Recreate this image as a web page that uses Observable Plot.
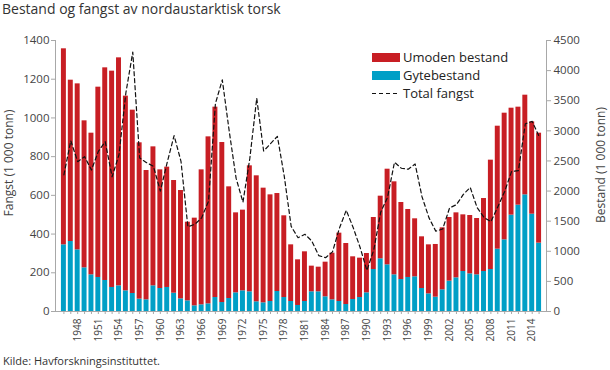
<!DOCTYPE html>
<html><head><meta charset="utf-8">
<script src="https://cdn.jsdelivr.net/npm/d3@7"></script>
<script src="https://cdn.jsdelivr.net/npm/@observablehq/plot@0.6"></script>
<style>
body{margin:0;background:#fff;font-family:"Open Sans",sans-serif;color:#333}
#wrap{position:relative;width:610px;height:370px;overflow:hidden}
#title{position:absolute;left:2px;top:0px;font-size:14px;line-height:18px;color:#333;white-space:nowrap}
#chart{position:absolute;left:0;top:24px}
#caption{position:absolute;left:3px;top:354px;font-size:11px;line-height:14px;color:#333;white-space:nowrap}
#legend{position:absolute;left:372px;top:48px;font-size:13px;color:#222}
.row{display:flex;align-items:center;height:18px}
.sw{width:28px;height:9px;margin-right:3px}
</style></head><body>
<div id="wrap">
  <div id="title">Bestand og fangst av nordaustarktisk torsk</div>
  <div id="chart"></div>
  <div id="legend"></div>
  <div id="caption">Kilde: Havforskningsinstituttet.</div>
</div>
<script>
const years = [1946,1947,1948,1949,1950,1951,1952,1953,1954,1955,1956,1957,1958,1959,1960,1961,1962,1963,1964,1965,
1966,1967,1968,1969,1970,1971,1972,1973,1974,1975,1976,1977,1978,1979,1980,1981,1982,1983,1984,1985,
1986,1987,1988,1989,1990,1991,1992,1993,1994,1995,1996,1997,1998,1999,2000,2001,2002,2003,2004,2005,
2006,2007,2008,2009,2010,2011,2012,2013,2014,2015];
// Gytebestand (1 000 tonn)
const gytebestand = [1107,1162,1024,725,609,565,515,399,426,343,299,205,194,426,382,399,304,210,177,94,
111,127,232,149,216,310,343,327,161,144,166,332,232,166,100,166,327,327,244,194,
166,116,199,232,310,697,875,775,609,531,565,576,382,293,238,360,504,559,664,625,
609,664,697,1035,1190,1600,1766,1937,1616,1135];
// Umoden bestand (1 000 tonn)
const umodenBestand = [3255,2679,2756,2441,2352,3160,3531,3592,3786,3233,3044,2596,2147,2308,1970,1998,1871,1799,1306,1456,
2241,2773,3161,2657,1854,1328,1340,2092,2092,1904,1771,1627,1357,941,758,825,426,409,575,775,
1135,1013,709,654,653,864,1040,1588,1544,1279,1129,963,858,814,875,1029,1057,1079,941,969,
935,1212,1816,2042,2103,1776,1627,1655,1533,1826];
// Total fangst (1 000 tonn)
const totalFangst = [706,882,774,800,731,827,877,696,810,1130,1340,793,769,750,622,770,909,776,438,450,
484,570,1074,1197,933,689,565,792,1102,829,867,905,698,440,381,399,364,289,278,308,
430,523,434,332,212,319,513,590,771,740,735,762,593,485,415,426,535,552,605,641,
537,486,464,540,620,723,728,970,982,905];

const seriesNames = ["Gytebestand", "Umoden bestand"];
const seriesColors = ["#009fc6", "#c81e24"];
const legendNames = ["Umoden bestand", "Gytebestand", "Total fangst"];
const yearTicks = [1948,1951,1954,1957,1960,1963,1966,1969,1972,1975,1978,1981,1984,1987,1990,1993,1996,1999,2002,2005,2008,2011,2014];
const leftTicks = [0,200,400,600,800,1000,1200,1400];
const rightTicks = [0,500,1000,1500,2000,2500,3000,3500,4000,4500];
const leftMax = 1400, rightMax = 4500;
const k = leftMax / rightMax;

const stockRows = [];
years.forEach((y, i) => {
  stockRows.push({year: y, serie: seriesNames[0], value: gytebestand[i] * k});
});
years.forEach((y, i) => {
  stockRows.push({year: y, serie: seriesNames[1], value: umodenBestand[i] * k});
});
const catchRows = years.map((y, i) => ({year: y, fangst: totalFangst[i]}));

const axisColor = "#a8a8a8";
const textColor = "#444";

const chart = Plot.plot({
  width: 610,
  height: 332,
  marginLeft: 55,
  marginRight: 64,
  marginTop: 16,
  marginBottom: 45,
  style: {fontFamily: "Open Sans, sans-serif", background: "transparent", overflow: "visible"},
  x: {type: "band", domain: years, padding: 0.28, insetLeft: 4, insetRight: 3, axis: null},
  y: {domain: [0, leftMax], axis: null},
  color: {domain: seriesNames, range: seriesColors},
  marks: [
    Plot.barY(stockRows, {x: "year", y: "value", fill: "serie"}),
    Plot.line(catchRows, {x: "year", y: "fangst", stroke: "#111", strokeWidth: 1.2, strokeDasharray: "4,3"}),
    Plot.frame({anchor: "left", stroke: axisColor}),
    Plot.frame({anchor: "right", stroke: axisColor}),
    Plot.ruleY([0], {stroke: axisColor}),
    Plot.axisY(leftTicks, {anchor: "left", tickSize: 4, tickPadding: 2, fontSize: 11.5, stroke: axisColor, fill: textColor, label: null, tickFormat: d => String(d)}),
    Plot.axisY(rightTicks.map(v => v * k), {anchor: "right", tickSize: 4, tickPadding: 3, fontSize: 11.5, stroke: axisColor, fill: textColor, label: null, tickFormat: d => String(Math.round(d / k))}),
    Plot.axisX(years, {anchor: "bottom", tickSize: 3, stroke: axisColor, tickFormat: () => "", label: null}),
    Plot.text(yearTicks, {x: d => d, frameAnchor: "bottom", rotate: -90, textAnchor: "end", lineAnchor: "middle", dy: 7, fontSize: 10, fill: textColor, text: d => String(d)}),
    Plot.text(["Fangst (1 000 tonn)"], {frameAnchor: "left", dx: -46, dy: -13, rotate: -90, textAnchor: "middle", fontSize: 12, fill: textColor}),
    Plot.text(["Bestand (1 000 tonn)"], {frameAnchor: "right", dx: 55, dy: -11, rotate: -90, textAnchor: "middle", fontSize: 12, fill: textColor})
  ]
});
document.getElementById("chart").appendChild(chart);

// legend
const lg = document.getElementById("legend");
const legendSw = [
  `<div class="sw" style="background:${seriesColors[1]}"></div>`,
  `<div class="sw" style="background:${seriesColors[0]}"></div>`,
  `<svg width="28" height="9" style="margin-right:3px"><line x1="0" x2="28" y1="4.5" y2="4.5" stroke="#111" stroke-width="1.2" stroke-dasharray="4,3"/></svg>`
];
legendNames.forEach((n, i) => {
  const r = document.createElement("div");
  r.className = "row";
  r.innerHTML = legendSw[i] + `<span>${n}</span>`;
  lg.appendChild(r);
});
</script>
</body></html>
